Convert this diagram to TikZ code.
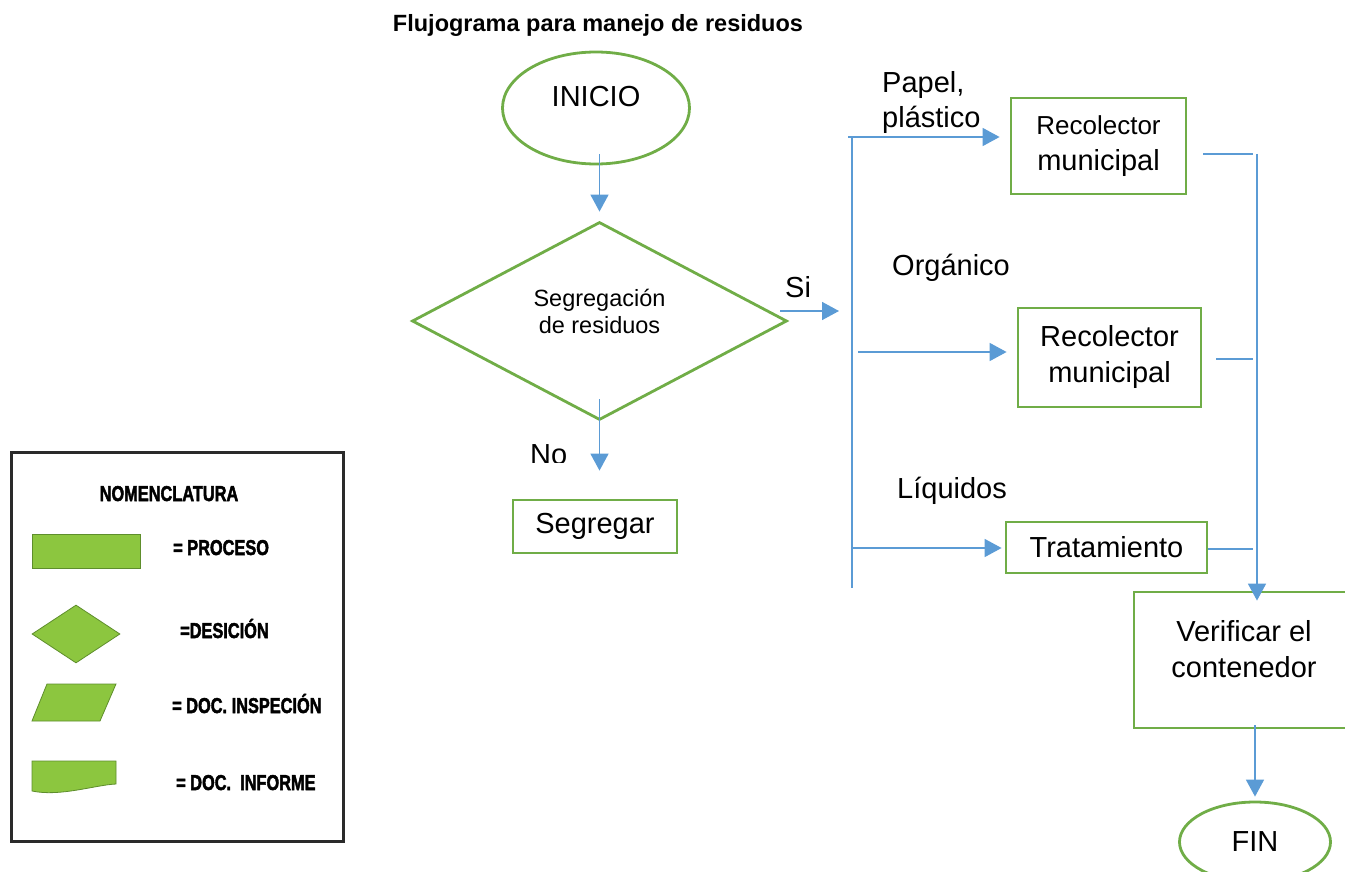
\documentclass[tikz,border=0pt]{standalone}
\usepackage{fontspec}
\setmainfont{Liberation Sans}
\newfontfamily\legfamily[BoldFeatures={FakeBold=2.5}]{Liberation Sans}
\usetikzlibrary{shapes.geometric,arrows.meta,calc}
\definecolor{flowgreen}{HTML}{70AD47}
\definecolor{flowblue}{HTML}{5B9BD5}
\definecolor{legfill}{HTML}{8CC63F}
\definecolor{legedge}{HTML}{5E8E2C}
\definecolor{legframe}{HTML}{2A2A2A}
\newcommand{\flowfont}{\fontsize{29}{36}\selectfont}
\newcommand{\diamfont}{\fontsize{23.5}{27}\selectfont}
\newcommand{\legfont}{\legfamily\bfseries\fontsize{21.5}{24}\selectfont}
\newcommand{\legtxt}[1]{\scalebox{0.76}[1]{#1}}
\begin{document}
\begin{tikzpicture}[x=1pt,y=-1pt,
  flowbox/.style={draw=flowgreen,line width=2.8pt,rectangle,inner sep=0pt,align=center,font=\flowfont},
  terminal/.style={draw=flowgreen,line width=2.8pt,ellipse,inner sep=0pt,font=\flowfont},
  decision/.style={draw=flowgreen,line width=2.8pt,diamond,aspect=2,inner sep=0pt,align=center,font=\diamfont},
  link/.style={draw=flowblue,line width=1.6pt},
  arr/.style={link,-{Triangle[length=17pt,width=18pt]}},
  lbl/.style={anchor=base west,inner sep=0pt,font=\flowfont},
  legshape/.style={fill=legfill,draw=legedge,line width=0.8pt},
  legtext/.style={anchor=base west,inner sep=0pt,font=\legfont}]

\useasboundingbox (0,0) rectangle (1345,872);
\clip (0,0) rectangle (1345,872);

% title
\node[font=\bfseries\fontsize{23.5}{28}\selectfont,anchor=base,inner sep=0pt] (title) at (598,32) {Flujograma para manejo de residuos};

% main flow
\node[terminal,minimum width=187pt,minimum height=112pt,text depth=23pt] (inicio) at (596,108) {INICIO};
\node[decision,minimum width=375pt,minimum height=198pt,text depth=20pt] (rombo) at (599.5,321) {Segregación\\de residuos};
\node[flowbox,minimum width=164pt,minimum height=53pt] (segregar) at (595,526.5) {Segregar};

\node[flowbox,minimum width=175pt,minimum height=96pt] (reco1) at (1098.5,146) {{\fontsize{26}{36}\selectfont Recolector}\\municipal};
\node[flowbox,minimum width=183pt,minimum height=99pt] (reco2) at (1109.5,357.5) {Recolector\\municipal};
\node[flowbox,minimum width=201pt,minimum height=51pt] (trat) at (1106.5,547.5) {Tratamiento};
\node[flowbox,minimum width=220pt,minimum height=136pt,text depth=23pt] (verif) at (1244,660) {Verificar el\\contenedor};
\node[terminal,minimum width=151pt,minimum height=80pt] (fin) at (1255,842) {FIN};

% branch labels
\node[lbl] (si) at (785,297) {Si};
\begin{scope}
  \clip (500,430) rectangle (600,462.5);
  \node[lbl] (no) at (530,464) {No};
\end{scope}
\node[lbl] (papel) at (882,93) {Papel,};
\node[lbl] (plastico) at (882,128) {plástico};
\node[lbl] (organico) at (892,275) {Orgánico};
\node[lbl] (liquidos) at (897,498) {Líquidos};

% connectors
\draw[arr] ($(inicio.south -| rombo.north)+(0,-11)$) -- ($(rombo.north)+(0,-9)$);
\draw[arr] ($(rombo.south)+(0,-22)$) -- ($(rombo.south |- segregar.north)+(0,-28)$);
\coordinate (siEnd) at (839,311);
\draw[arr] ($(rombo.east)+(-8,-10)$) -- (siEnd);

\coordinate (busTop) at (852,137);
\coordinate (busBot) at (852,588);
\draw[link] (busTop) -- (busBot);
\draw[arr] ($(busTop)+(-4,0)$) -- ($(busTop -| reco1.west)+(-10,0)$);
\coordinate (orgStart) at (858,352);
\draw[arr] (orgStart) -- ($(orgStart -| reco2.west)+(-10,0)$);
\coordinate (liqStart) at (851,548);
\draw[arr] (liqStart) -- ($(liqStart -| trat.west)+(-3,0)$);

\coordinate (rbusTop) at (1257,154);
\draw[arr] (rbusTop) -- ($(verif.north -| rbusTop)+(0,10)$);
\draw[link] ($(reco1.east)+(16,8)$) -- ($(rbusTop)+(-4,0)$);
\draw[link] ($(reco2.east)+(14,1.5)$) -- ($(reco2.east -| rbusTop)+(-4,1.5)$);
\draw[link] ($(trat.east)+(0,1.5)$) -- ($(trat.east -| rbusTop)+(-4,1.5)$);
\draw[arr] ($(verif.south -| fin.north)+(0,-4)$) -- ($(fin.north)+(0,-4)$);

% legend
\node[draw=legframe,line width=3pt,minimum width=332pt,minimum height=389pt,inner sep=0pt] (legend) at (177,646.5) {};
\node[legtext,anchor=base] (nom) at (169,501) {\legtxt{NOMENCLATURA}};
\node[legshape,rectangle,minimum width=108pt,minimum height=34pt,inner sep=0pt] (legproc) at (86,551) {};
\node[legshape,diamond,minimum width=88pt,minimum height=58pt,inner sep=0pt] (legdec) at (76,634) {};
\path[legshape] (32,721) -- (47,684) -- (116,684) -- (100,721) -- cycle;
\path[legshape] (32,761) -- (116,761) -- (116,784) .. controls (95,785) and (60,797) .. (32,791) -- cycle;
\node[legtext] (tproc) at (173,555) {\legtxt{= PROCESO}};
\node[legtext] (tdec) at (180,638) {\legtxt{=DESICIÓN}};
\node[legtext] (tinsp) at (172,713) {\legtxt{= DOC. INSPECIÓN}};
\node[legtext] (tinf) at (176,790) {\legtxt{= DOC.\ \ INFORME}};
\end{tikzpicture}
\end{document}
